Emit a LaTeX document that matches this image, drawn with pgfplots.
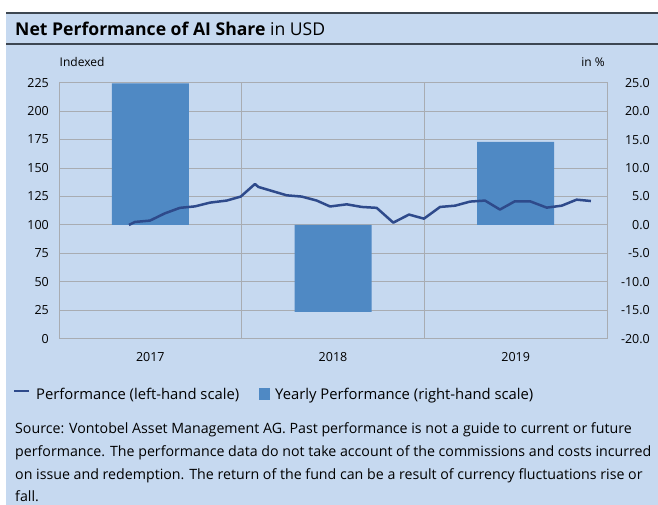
\documentclass[border=0pt]{standalone}
\usepackage{pgfplots}
\pgfplotsset{compat=1.18}
\usepackage{fontspec}
\setmainfont{Open Sans}
\definecolor{bg}{HTML}{C6D9F0}
\definecolor{barc}{HTML}{4F89C4}
\definecolor{linec}{HTML}{2E4A8B}
\definecolor{gridc}{HTML}{A8ACB2}
\definecolor{rulec}{HTML}{3D4752}
\begin{document}
\begin{tikzpicture}[x=1pt,y=1pt]
\path[use as bounding box] (0,0) rectangle (658,505);
\fill[white] (0,0) rectangle (658,505);
\fill[bg] (6,0) rectangle (658,492);
\draw[rulec, line width=1.3pt] (6,492) -- (658,492);
\draw[rulec, line width=1.6pt] (6,460.7) -- (658,460.7);
\node[anchor=base west, inner sep=0, font=\fontsize{17.6}{22}\selectfont] at (15,469.5) {\textbf{Net Performance of AI Share} in USD};
\node[anchor=base west, inner sep=0, font=\fontsize{12}{14}\selectfont] at (59.5,438.5) {Indexed};
\node[anchor=base east, inner sep=0, font=\fontsize{12}{14}\selectfont] at (605,438.5) {in \%};
\begin{axis}[
  at={(59pt,166.3pt)}, anchor=south west,
  width=548pt, height=256pt, scale only axis,
  xmin=0, xmax=3, ymin=-20, ymax=25,
  axis line style={gridc, line width=1pt},
  xtick={0.5,1.5,2.5}, xticklabels={2017,2018,2019},
  extra x ticks={1,2}, extra x tick labels={},
  extra x tick style={grid=major},
  ytick={-20,-15,...,25}, ymajorgrids,
  major grid style={gridc, line width=1pt},
  yticklabel pos=right,
  yticklabel={\pgfmathprintnumber[fixed,fixed zerofill,precision=1]{\tick}},
  /pgf/number format/assume math mode=true,
  tick style={draw=none},
  ticklabel style={font=\fontsize{12.5}{14}\selectfont},
  yticklabel style={anchor=east, inner sep=0pt, xshift=43pt},
  xticklabel style={anchor=base, inner sep=0pt, yshift=-23pt},
  clip=false,
]
\addplot[ybar, bar width=77pt, fill=barc, draw=none] coordinates {(0.5,24.9) (1.5,-15.3) (2.5,14.6)};
\end{axis}
\begin{axis}[
  at={(59pt,166.3pt)}, anchor=south west,
  width=548pt, height=256pt, scale only axis,
  xmin=0, xmax=3, ymin=0, ymax=225,
  axis x line=none, axis y line*=left,
  axis line style={draw=none},
  ytick={0,25,...,225},
  /pgf/number format/assume math mode=true,
  tick style={draw=none},
  ticklabel style={font=\fontsize{12.5}{14}\selectfont},
  yticklabel style={anchor=east, inner sep=0pt, xshift=-10pt},
]
\addplot[linec, line width=2.5pt, line join=round, mark=none] coordinates {
(0.383,100) (0.416,102.6) (0.498,103.8) (0.580,110.2) (0.662,115.0) (0.745,116.3)
(0.827,119.6) (0.918,121.4) (0.995,124.9) (1.073,136.0) (1.091,133.4) (1.173,129.5)
(1.247,126.0) (1.329,124.9) (1.411,121.4) (1.484,116.2) (1.575,118.1) (1.657,115.8)
(1.739,115.0) (1.830,102.0) (1.916,109.1) (1.998,105.5) (2.086,115.8) (2.168,116.9)
(2.250,120.5) (2.332,121.4) (2.414,113.5) (2.496,120.8) (2.578,120.8) (2.670,115.2)
(2.752,116.9) (2.834,122.2) (2.912,121.0)};
\end{axis}
\draw[linec, line width=2.5pt] (14,114) -- (29,114);
\node[anchor=base west, inner sep=0, font=\fontsize{14.8}{17}\selectfont] at (36,105) {Performance (left-hand scale)};
\fill[barc] (258.5,105) rectangle (270,116.5);
\node[anchor=base west, inner sep=0, font=\fontsize{14.8}{17}\selectfont] at (275,105) {Yearly Performance (right-hand scale)};
\begin{scope}[every node/.style={anchor=base west, inner sep=0, font=\fontsize{14.2}{17}\selectfont}]
\node at (15,71) {Source: Vontobel Asset Management AG. Past performance is not a guide to current or future};
\node at (15,48.3) {performance. The performance data do not take account of the commissions and costs incurred};
\node at (15,25.7) {on issue and redemption. The return of the fund can be a result of currency fluctuations rise or};
\node at (15,3) {fall.};
\end{scope}
\end{tikzpicture}
\end{document}
